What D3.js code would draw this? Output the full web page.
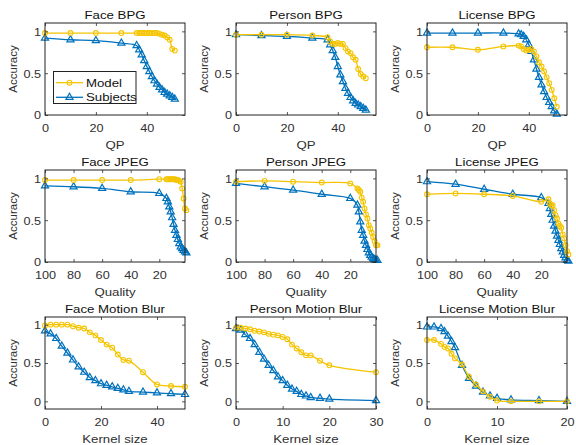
<!DOCTYPE html>
<html><head><meta charset="utf-8">
<script src="https://cdn.jsdelivr.net/npm/d3@7"></script>
<style>
html,body{margin:0;padding:0;background:#fff;}
svg{display:block;font-family:"Liberation Sans",Arial,Helvetica,sans-serif;}
</style></head><body>
<svg id="chart" width="576" height="445"></svg>
<script>
// ---------- data ----------
const bpgQP = [0,10,20,30,36,37,38,39,40,41,42,43,44,45,46,47,48,49,50,51];
const faceBpgModel    = [0.98,0.98,0.98,0.98,0.98,0.98,0.98,0.98,0.98,0.98,0.98,0.98,0.98,0.97,0.96,0.95,0.93,0.90,0.79,0.77];
const faceBpgSubjects = [0.92,0.90,0.89,0.86,0.83,0.78,0.72,0.65,0.58,0.52,0.46,0.41,0.37,0.33,0.30,0.27,0.25,0.23,0.21,0.19];
const personBpgModel    = [0.96,0.96,0.96,0.95,0.93,0.88,0.85,0.85,0.86,0.85,0.85,0.80,0.76,0.74,0.69,0.66,0.55,0.49,0.46,0.44];
const personBpgSubjects = [0.96,0.95,0.94,0.92,0.90,0.84,0.77,0.69,0.58,0.48,0.40,0.32,0.26,0.21,0.17,0.14,0.12,0.10,0.08,0.06];
const licenseBpgModel    = [0.81,0.81,0.78,0.82,0.83,0.82,0.79,0.77,0.78,0.79,0.76,0.70,0.63,0.58,0.52,0.45,0.38,0.30,0.20,0.10];
const licenseBpgSubjects = [0.98,0.98,0.98,0.98,0.97,0.96,0.94,0.90,0.84,0.76,0.66,0.55,0.45,0.36,0.28,0.21,0.15,0.10,0.05,0.01];

const jpegQuality = [100,80,60,40,20,15,14,13,12,11,10,9,8,7,6,5,4,3,2,1];
const faceJpegModel    = [0.98,0.98,0.98,0.98,0.99,0.99,0.99,0.99,0.99,0.99,0.99,0.99,0.98,0.98,0.97,0.96,0.88,0.76,0.64,0.62];
const faceJpegSubjects = [0.91,0.90,0.88,0.84,0.82,0.76,0.72,0.66,0.60,0.53,0.45,0.38,0.32,0.27,0.22,0.18,0.16,0.14,0.12,0.11];
const personJpegModel    = [0.96,0.97,0.96,0.95,0.94,0.88,0.86,0.84,0.77,0.72,0.64,0.57,0.52,0.44,0.40,0.35,0.30,0.25,0.20,0.20];
const personJpegSubjects = [0.94,0.90,0.86,0.81,0.76,0.68,0.60,0.48,0.38,0.32,0.25,0.20,0.15,0.11,0.08,0.06,0.04,0.03,0.02,0.02];
const licenseJpegModel    = [0.81,0.82,0.81,0.79,0.72,0.75,0.70,0.68,0.68,0.62,0.56,0.52,0.46,0.43,0.41,0.33,0.28,0.20,0.13,0.09];
const licenseJpegSubjects = [0.96,0.93,0.87,0.81,0.77,0.70,0.64,0.57,0.50,0.43,0.37,0.31,0.26,0.21,0.16,0.12,0.08,0.05,0.02,0.01];

const faceBlurKernel = [0,2,4,6,8,10,12,14,16,18,20,22,24,26,28,30,35,40,45,50];
const faceBlurModel    = [0.99,1.00,1.00,1.00,1.00,0.98,0.96,0.95,0.90,0.86,0.80,0.74,0.70,0.61,0.54,0.53,0.38,0.22,0.20,0.19];
const faceBlurSubjects = [0.92,0.88,0.82,0.72,0.63,0.54,0.45,0.38,0.31,0.27,0.23,0.21,0.19,0.17,0.15,0.13,0.12,0.11,0.10,0.09];
const personBlurKernel = [0,1,2,3,4,5,6,7,8,9,10,11,12,13,14,15,16,18,20,30];
const personBlurModel    = [0.96,0.96,0.95,0.94,0.92,0.91,0.90,0.88,0.87,0.86,0.84,0.81,0.74,0.69,0.64,0.60,0.60,0.53,0.47,0.38];
const personBlurSubjects = [0.95,0.93,0.87,0.82,0.74,0.64,0.55,0.47,0.40,0.32,0.27,0.21,0.16,0.13,0.09,0.07,0.05,0.04,0.03,0.01];
const licenseBlurKernel = [0,1,2,2.5,3,3.5,4,5,6,7,8,9,10,12,16,20];
const licenseBlurModel    = [0.80,0.80,0.75,0.71,0.69,0.62,0.56,0.48,0.32,0.22,0.13,0.06,0.01,0.00,0.00,0.00];
const licenseBlurSubjects = [0.97,0.97,0.95,0.91,0.85,0.78,0.70,0.47,0.30,0.20,0.12,0.07,0.04,0.02,0.01,0.00];

const seriesNames = ["Model","Subjects"];
const yTicks = [0,0.5,1];

const panels = [
  {title:"Face BPG",    xs:bpgQP, model:faceBpgModel,    subj:faceBpgSubjects,    xDomain:[0,55], xTicks:[0,20,40], xLabel:"QP", yDomain:[0,1.1], legend:true},
  {title:"Person BPG",  xs:bpgQP, model:personBpgModel,  subj:personBpgSubjects,  xDomain:[0,55], xTicks:[0,20,40], xLabel:"QP", yDomain:[0,1.1]},
  {title:"License BPG", xs:bpgQP, model:licenseBpgModel, subj:licenseBpgSubjects, xDomain:[0,55], xTicks:[0,20,40], xLabel:"QP", yDomain:[0,1.1]},
  {title:"Face JPEG",    xs:jpegQuality, model:faceJpegModel,    subj:faceJpegSubjects,    xDomain:[100,2], xTicks:[100,80,60,40,20], xLabel:"Quality", yDomain:[0,1.1]},
  {title:"Person JPEG",  xs:jpegQuality, model:personJpegModel,  subj:personJpegSubjects,  xDomain:[100,2], xTicks:[100,80,60,40,20], xLabel:"Quality", yDomain:[0,1.1]},
  {title:"License JPEG", xs:jpegQuality, model:licenseJpegModel, subj:licenseJpegSubjects, xDomain:[100,2], xTicks:[100,80,60,40,20], xLabel:"Quality", yDomain:[0,1.1]},
  {title:"Face Motion Blur",    xs:faceBlurKernel,    model:faceBlurModel,    subj:faceBlurSubjects,    xDomain:[0,50], xTicks:[0,20,40],    xLabel:"Kernel size", yDomain:[-0.1,1.1]},
  {title:"Person Motion Blur",  xs:personBlurKernel,  model:personBlurModel,  subj:personBlurSubjects,  xDomain:[0,30], xTicks:[0,10,20,30], xLabel:"Kernel size", yDomain:[-0.1,1.1]},
  {title:"License Motion Blur", xs:licenseBlurKernel, model:licenseBlurModel, subj:licenseBlurSubjects, xDomain:[0,20], xTicks:[0,10,20],    xLabel:"Kernel size", yDomain:[-0.1,1.1]}
];

// ---------- layout / style ----------
const lefts = [45,236,427], tops = [23,170,317], pw = 140, ph = 92;
const AX = "#303030", YEL = "#F5C400", BLU = "#0072BD";
const STRETCH = 1.15;
const svg = d3.select("#chart");
svg.append("rect").attr("width",576).attr("height",445).attr("fill","#fff");

const tri = d3.symbol().type(d3.symbolTriangle).size(22);

panels.forEach((p,i)=>{
  const col = i%3, row = Math.floor(i/3);
  const g = svg.append("g").attr("transform",`translate(${lefts[col]},${tops[row]})`);
  const x = d3.scaleLinear().domain(p.xDomain).range([0,pw]);
  const y = d3.scaleLinear().domain(p.yDomain).range([ph,0]);

  const line = d3.line().x((d,j)=>x(p.xs[j])).y(d=>y(d)).curve(d3.curveCatmullRom.alpha(0.5));

  // Subjects (blue)
  g.append("path").datum(p.subj).attr("d",line).attr("fill","none").attr("stroke",BLU).attr("stroke-width",1.3);
  g.append("g").selectAll("path").data(p.subj).join("path")
    .attr("d",tri).attr("transform",(d,j)=>`translate(${x(p.xs[j])},${y(d)})`)
    .attr("fill","none").attr("stroke",BLU).attr("stroke-width",1.2);
  // Model (yellow)
  g.append("path").datum(p.model).attr("d",line).attr("fill","none").attr("stroke",YEL).attr("stroke-width",1.3);
  g.append("g").selectAll("circle").data(p.model).join("circle")
    .attr("cx",(d,j)=>x(p.xs[j])).attr("cy",d=>y(d)).attr("r",2.4)
    .attr("fill","none").attr("stroke",YEL).attr("stroke-width",1.1);

  // axes
  const fmtY = d=> d===0.5 ? "0.5" : d3.format("d")(d);
  const bx = g.append("g").attr("transform",`translate(0,${ph})`)
    .call(d3.axisBottom(x).tickValues(p.xTicks).tickSizeInner(-3).tickSizeOuter(0).tickFormat(d3.format("d")));
  bx.selectAll("text").attr("y",16.5).attr("dy","0").classed("hs",true);
  const ly = g.append("g")
    .call(d3.axisLeft(y).tickValues(yTicks).tickSizeInner(-3).tickSizeOuter(0).tickFormat(fmtY));
  ly.selectAll("text").attr("x",-4).attr("dy","0.36em").classed("hs",true);
  g.append("g").call(d3.axisTop(x).tickValues(p.xTicks).tickSizeInner(-3).tickSizeOuter(0).tickFormat(()=>""));
  g.append("g").attr("transform",`translate(${pw},0)`)
    .call(d3.axisRight(y).tickValues(yTicks).tickSizeInner(-3).tickSizeOuter(0).tickFormat(()=>""));
  g.selectAll(".domain").remove();
  g.selectAll(".tick line").attr("stroke",AX).attr("stroke-width",0.8);
  g.selectAll(".tick text").attr("fill",AX).attr("font-size","11px").attr("font-family","Liberation Sans, Arial, sans-serif");
  g.append("rect").attr("width",pw).attr("height",ph).attr("fill","none").attr("stroke","#222").attr("stroke-width",1);

  // labels
  g.append("text").attr("class","hs").attr("x",pw/2).attr("y",-4.5).attr("text-anchor","middle")
    .attr("font-size","11.5px").attr("fill","#111").text(p.title);
  g.append("text").attr("class","hs").attr("x",pw/2).attr("y",ph+33.5).attr("text-anchor","middle")
    .attr("font-size","11.5px").attr("fill",AX).text(p.xLabel);
  g.append("text").attr("transform",`translate(-28.5,${ph/2}) rotate(-90)`).attr("text-anchor","middle")
    .attr("font-size","11.5px").attr("fill",AX).text("Accuracy");

  if (p.legend){
    const lg = g.append("g").attr("transform","translate(8.5,48.5)");
    lg.append("rect").attr("width",82.5).attr("height",32).attr("fill","#fff").attr("stroke","#222").attr("stroke-width",1);
    const rowsY = [11.2,25.8];
    seriesNames.forEach((nm,k)=>{
      const c = k===0?YEL:BLU;
      lg.append("line").attr("x1",2.5).attr("x2",29.5).attr("y1",rowsY[k]).attr("y2",rowsY[k]).attr("stroke",c).attr("stroke-width",1.3);
      if (k===0) lg.append("circle").attr("cx",16).attr("cy",rowsY[k]).attr("r",2.4).attr("fill","none").attr("stroke",c).attr("stroke-width",1.1);
      else lg.append("path").attr("d",tri).attr("transform",`translate(16,${rowsY[k]})`).attr("fill","none").attr("stroke",c).attr("stroke-width",1.2);
      lg.append("text").attr("class","hs").attr("x",32.5).attr("y",rowsY[k]).attr("dy","0.36em")
        .attr("font-size","11.5px").attr("fill","#111").text(nm);
    });
  }
});

svg.selectAll("text.hs").each(function(){
  const L = this.getComputedTextLength();
  d3.select(this).attr("textLength", L*STRETCH).attr("lengthAdjust","spacingAndGlyphs");
});
</script>
</body></html>
